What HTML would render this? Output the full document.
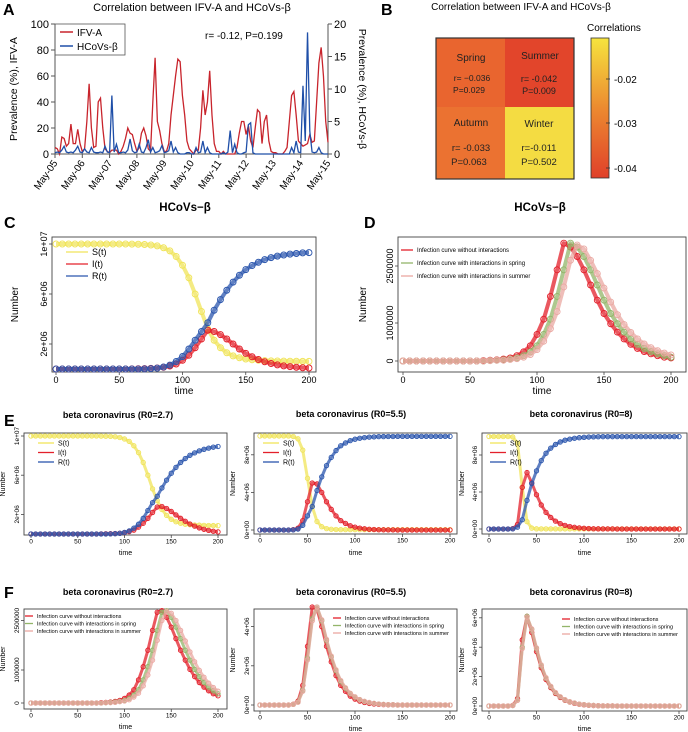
<!DOCTYPE html>
<html><head><meta charset="utf-8">
<style>
html,body{margin:0;padding:0;background:#fff;}
svg{display:block;font-family:"Liberation Sans",sans-serif;}
</style></head>
<body>
<svg id="fig" width="688" height="732" viewBox="0 0 688 732" xmlns="http://www.w3.org/2000/svg">
  <g font-weight="bold" font-size="16" fill="#000">
    <text x="3" y="15">A</text>
    <text x="381" y="15">B</text>
    <text x="4" y="228">C</text>
    <text x="364" y="228">D</text>
    <text x="4" y="426">E</text>
    <text x="4" y="598">F</text>
  </g>
  <g id="panelA">
    <text x="192" y="11" text-anchor="middle" font-size="11">Correlation between IFV-A and HCoVs-β</text>
    <text transform="translate(17,89) rotate(-90)" text-anchor="middle" font-size="10.5">Prevalence (%), IFV-A</text>
    <text transform="translate(359,89) rotate(90)" text-anchor="middle" font-size="10.5">Prevalence (%), HCoVs-β</text>
    <text x="205" y="39" font-size="10">r= -0.12, P=0.199</text>
    <g>
      <rect x="55" y="24" width="70" height="31" fill="#fff" stroke="#555" stroke-width="0.8"/>
      <line x1="60" y1="32" x2="73" y2="32" stroke="#c8242c" stroke-width="1.5"/>
      <text x="77" y="36" font-size="10">IFV-A</text>
      <line x1="60" y1="46" x2="73" y2="46" stroke="#1f4fa8" stroke-width="1.5"/>
      <text x="77" y="50" font-size="10">HCoVs-β</text>
    </g>
  </g>
  <g id="panelB">
    <defs>
      <linearGradient id="cbar" x1="0" y1="0" x2="0" y2="1">
        <stop offset="0" stop-color="#f6e43e"/>
        <stop offset="0.5" stop-color="#ec8a30"/>
        <stop offset="1" stop-color="#e0402a"/>
      </linearGradient>
    </defs>
    <text x="521" y="10" text-anchor="middle" font-size="10">Correlation between IFV-A and HCoVs-β</text>
    <rect x="436" y="38" width="69" height="69" fill="#e9652f"/>
    <rect x="505" y="38" width="69" height="69" fill="#e2452b"/>
    <rect x="436" y="107" width="69" height="72" fill="#eb7231"/>
    <rect x="505" y="107" width="69" height="72" fill="#f4dc42"/>
    <rect x="436" y="38" width="138" height="141" fill="none" stroke="#333" stroke-width="1.2"/>
    <g font-size="10" fill="#222" text-anchor="middle">
      <text x="471" y="61">Spring</text>
      <text x="472" y="81" font-size="8.5">r= −0.036</text>
      <text x="469" y="93" font-size="8.5">P=0.029</text>
      <text x="540" y="59">Summer</text>
      <text x="539" y="82" font-size="9">r= -0.042</text>
      <text x="539" y="94" font-size="9">P=0.009</text>
      <text x="471" y="126">Autumn</text>
      <text x="471" y="151" font-size="9.5">r= -0.033</text>
      <text x="469" y="165" font-size="9.5">P=0.063</text>
      <text x="539" y="127">Winter</text>
      <text x="539" y="151" font-size="9.5">r=-0.011</text>
      <text x="539" y="165" font-size="9.5">P=0.502</text>
    </g>
    <text x="587" y="31" font-size="10">Correlations</text>
    <rect x="591" y="38" width="18" height="140" fill="url(#cbar)" stroke="#333" stroke-width="0.8"/>
    <g stroke="#333" stroke-width="0.8">
      <line x1="606" y1="79" x2="610" y2="79"/><line x1="606" y1="123" x2="610" y2="123"/><line x1="606" y1="168" x2="610" y2="168"/>
    </g>
    <g font-size="10">
      <text x="614" y="83">-0.02</text>
      <text x="614" y="127">-0.03</text>
      <text x="614" y="172">-0.04</text>
    </g>
  </g>
</svg>
<script>
const monthLabels = ["May-05","May-06","May-07","May-08","May-09","May-10","May-11","May-12","May-13","May-14","May-15"];
const leftTicks = [0,20,40,60,80,100];
const rightTicks = [0,5,10,15,20];
const ifvA = [5,4,0,13,12,6,8,23,8,8,19,8,2,4,25,54,20,5,6,40,43,20,4,2,1,3,3,3,0,2,6,12,20,16,15,8,2,5,16,20,14,4,2,40,74,25,18,8,2,2,8,30,45,60,73,71,45,30,10,4,2,0,3,3,20,49,30,40,64,30,8,2,2,0,2,0,0,0,0,0,5,16,25,25,15,22,10,5,20,34,32,8,25,30,10,2,1,1,0,0,0,2,5,25,45,48,30,10,8,6,7,8,15,9,10,40,70,82,60,25,9];
const hcovB = [0.2,0.3,0.2,0.6,1.2,0.3,0.2,0.3,0.2,0.6,1.2,0.3,0.2,0.8,0.3,0.2,1.0,0.3,0.2,0.2,0.3,0.2,1.2,0.3,0.2,9.0,0.3,1.5,0.2,0.2,0.3,0.2,0.6,2.3,0.5,0.2,0.3,1.5,0.3,0.2,1.0,2.2,0.3,1.0,0.2,0.3,0.5,1.3,0.2,0.3,0.5,2.0,0.3,1.0,0.2,0,0,0,0.2,0.2,0,0,1.0,0.2,0.3,2.0,0.2,1.0,0.2,0,0,0,0,0,0.2,0,0.3,3.6,0.2,1.5,0.2,0,0,0.2,0.3,4.5,4.8,0.2,0,0,0,0,0,0,0,0,0,0,0,0,0,0,0,0,1.0,0.2,2.0,0.3,0.2,10.5,2.0,18.7,3.5,0.3,0.2,0.3,1.0,0.2,0,0,0];

const times = [0,5,10,15,20,25,30,35,40,45,50,55,60,65,70,75,80,85,90,95,100,105,110,115,120,125,130,135,140,145,150,155,160,165,170,175,180,185,190,195,200];
const xTicks = [0,50,100,150,200];
const cS = [10,10,10,10,10,10,10,10,10,10,10,10,9.99,9.98,9.96,9.92,9.85,9.7,9.45,9.0,8.3,7.3,6.0,4.6,3.2,2.3,1.7,1.3,1.05,0.9,0.8,0.74,0.7,0.67,0.65,0.64,0.63,0.62,0.62,0.61,0.61];
const cI = [0,0,0,0,0,0,0,0,0,0,0,0,0.01,0.02,0.03,0.05,0.08,0.14,0.24,0.4,0.7,1.1,1.7,2.4,3.1,3.0,2.75,2.4,2.0,1.6,1.25,0.98,0.76,0.58,0.44,0.33,0.25,0.19,0.14,0.1,0.08];
const cR = [0,0,0,0,0,0,0,0,0,0,0,0,0,0,0.01,0.03,0.07,0.16,0.31,0.6,1.0,1.6,2.3,3.0,3.7,4.7,5.55,6.3,6.95,7.5,7.95,8.28,8.54,8.75,8.91,9.03,9.12,9.19,9.24,9.29,9.31];
const dSpring = [0,0,0,0,0,0,0,0,0,0,0,0,0,0.01,0.02,0.03,0.05,0.08,0.14,0.24,0.4,0.7,1.1,1.7,2.4,3.1,3.0,2.75,2.4,2.0,1.6,1.25,0.98,0.76,0.58,0.44,0.33,0.25,0.19,0.14,0.1];
const dSummer = [0,0,0,0,0,0,0,0,0,0,0,0,0,0.01,0.02,0.02,0.04,0.06,0.1,0.17,0.3,0.52,0.85,1.3,1.95,2.65,3.05,2.95,2.65,2.3,1.92,1.55,1.22,0.96,0.75,0.58,0.45,0.35,0.27,0.21,0.16];
const e1S = [10,10,10,10,10,10,10,10,10,10,10,10,10,10,10,9.99,9.98,9.96,9.92,9.85,9.7,9.45,9.0,8.3,7.3,6.0,4.6,3.4,2.5,1.9,1.5,1.25,1.1,1.0,0.95,0.92,0.9,0.88,0.87,0.86,0.85];
const e1I = [0,0,0,0,0,0,0,0,0,0,0,0,0,0,0,0.01,0.02,0.03,0.05,0.08,0.14,0.24,0.4,0.7,1.1,1.6,2.2,2.75,2.8,2.6,2.3,1.95,1.6,1.3,1.02,0.8,0.62,0.48,0.37,0.28,0.22];
const e1R = [0,0,0,0,0,0,0,0,0,0,0,0,0,0,0,0,0,0.01,0.03,0.07,0.16,0.31,0.6,1.0,1.6,2.4,3.2,3.85,4.7,5.5,6.2,6.8,7.3,7.7,8.03,8.28,8.48,8.64,8.76,8.86,8.93];
const e2S = [10,10,10,10,10,10,10,9.95,9.7,8.5,5.5,2.5,0.9,0.35,0.15,0.08,0.05,0.04,0.04,0.04,0.04,0.04,0.04,0.04,0.04,0.04,0.04,0.04,0.04,0.04,0.04,0.04,0.04,0.04,0.04,0.04,0.04,0.04,0.04,0.04,0.04];
const e2I = [0,0,0,0,0,0,0,0.04,0.2,1.0,3.0,5.0,4.9,4.0,3.0,2.2,1.5,1.0,0.7,0.45,0.3,0.2,0.13,0.08,0.05,0.03,0.02,0.01,0.01,0,0,0,0,0,0,0,0,0,0,0,0];
const e2R = [0,0,0,0,0,0,0,0.01,0.1,0.5,1.5,2.5,4.2,5.65,6.85,7.72,8.45,8.96,9.26,9.51,9.66,9.76,9.83,9.88,9.91,9.93,9.94,9.95,9.95,9.96,9.96,9.96,9.96,9.96,9.96,9.96,9.96,9.96,9.96,9.96,9.96];
const e3S = [10,10,10,10,10,9.95,9.3,4.5,0.8,0.1,0.02,0.01,0.01,0.01,0.01,0.01,0.01,0.01,0.01,0.01,0.01,0.01,0.01,0.01,0.01,0.01,0.01,0.01,0.01,0.01,0.01,0.01,0.01,0.01,0.01,0.01,0.01,0.01,0.01,0.01,0.01];
const e3I = [0,0,0,0,0,0.04,0.5,4.5,6.1,5.0,3.7,2.6,1.8,1.25,0.85,0.58,0.39,0.27,0.18,0.12,0.08,0.05,0.03,0.02,0.01,0.01,0.01,0,0,0,0,0,0,0,0,0,0,0,0,0,0];
const e3R = [0,0,0,0,0,0.01,0.2,1.0,3.1,4.9,6.28,7.39,8.19,8.74,9.14,9.41,9.6,9.72,9.81,9.87,9.91,9.94,9.96,9.97,9.98,9.98,9.98,9.99,9.99,9.99,9.99,9.99,9.99,9.99,9.99,9.99,9.99,9.99,9.99,9.99,9.99];
const f1Spring = [0,0,0,0,0,0,0,0,0,0,0,0,0,0,0,0,0.01,0.02,0.03,0.05,0.08,0.14,0.24,0.4,0.7,1.1,1.6,2.2,2.75,2.8,2.6,2.3,1.95,1.6,1.3,1.02,0.8,0.62,0.48,0.37,0.28];
const f1Summer = [0,0,0,0,0,0,0,0,0,0,0,0,0,0,0,0,0.01,0.01,0.02,0.04,0.06,0.1,0.18,0.3,0.52,0.85,1.3,1.9,2.5,2.78,2.72,2.5,2.2,1.88,1.55,1.25,0.99,0.78,0.6,0.47,0.36];
const f2Spring = [0,0,0,0,0,0,0,0.03,0.15,0.75,2.4,4.4,5.0,4.3,3.3,2.45,1.75,1.2,0.85,0.58,0.4,0.27,0.18,0.12,0.08,0.05,0.03,0.02,0.01,0,0,0,0,0,0,0,0,0,0,0,0];
const f2Summer = [0,0,0,0,0,0,0,0.03,0.14,0.7,2.3,4.3,5.0,4.35,3.35,2.5,1.8,1.25,0.88,0.6,0.42,0.28,0.19,0.13,0.08,0.05,0.03,0.02,0.01,0,0,0,0,0,0,0,0,0,0,0,0];
const f3Spring = [0,0,0,0,0,0.03,0.4,4.0,6.1,5.2,3.9,2.75,1.9,1.32,0.9,0.62,0.42,0.29,0.2,0.13,0.09,0.06,0.04,0.02,0.01,0.01,0.01,0,0,0,0,0,0,0,0,0,0,0,0,0,0];
const f3Summer = [0,0,0,0,0,0.03,0.38,3.9,6.05,5.25,3.95,2.8,1.93,1.34,0.92,0.63,0.43,0.3,0.2,0.13,0.09,0.06,0.04,0.02,0.01,0.01,0.01,0,0,0,0,0,0,0,0,0,0,0,0,0,0];

const NS = "http://www.w3.org/2000/svg";
const svg = document.getElementById('fig');
function mk(tag, attrs, parent){
  const el = document.createElementNS(NS, tag);
  for (const k in attrs) el.setAttribute(k, attrs[k]);
  (parent||svg).appendChild(el);
  return el;
}

(function(){
  const g = document.getElementById('panelA');
  const L=55, R=328, T=24, B=154;
  const nM = ifvA.length - 1;
  const xA = i => L + (R-L)*i/nM;
  const yL = v => B - (B-T)*v/100;
  const yR = v => B - (B-T)*v/20;
  const axes = mk('path',{d:`M${L},${T}V${B}H${R}V${T}`,fill:'none',stroke:'#555','stroke-width':1},g);
  
  
  leftTicks.forEach(v=>{
    mk('line',{x1:L-4,x2:L,y1:yL(v),y2:yL(v),stroke:'#555'},g);
    const t = mk('text',{x:L-6,y:yL(v)+4,'text-anchor':'end','font-size':11},g);
    t.textContent = v;
    
    
  });
  rightTicks.forEach(v=>{
    mk('line',{x1:R,x2:R+4,y1:yR(v),y2:yR(v),stroke:'#555'},g);
    const t = mk('text',{x:R+6,y:yR(v)+4,'font-size':11},g);
    t.textContent = v;
    
    
  });
  monthLabels.forEach((lab,k)=>{
    const x = xA(k*12);
    mk('line',{x1:x,x2:x,y1:B,y2:B+4,stroke:'#555'},g);
    const t = mk('text',{transform:`translate(${x+3},${B+9}) rotate(-55)`,'text-anchor':'end','font-size':10},g);
    t.textContent = lab;
    
    
  });
  const pI = mk('polyline',{points:ifvA.map((v,i)=>xA(i)+','+yL(v)).join(' '),fill:'none',stroke:'#c8242c','stroke-width':1.3},g);
  
  
  const pH = mk('polyline',{points:hcovB.map((v,i)=>xA(i)+','+yR(v)).join(' '),fill:'none',stroke:'#1f4fa8','stroke-width':1.3},g);
  
  
})();

function sirPanel(c){
  const g = mk('g',{});
  
  
  const xs = t => c.x0 + (c.x200 - c.x0)*t/200;
  const ys = v => c.y0 - v*c.ppu;
  const box = mk('rect',{x:c.l,y:c.t,width:c.r-c.l,height:c.b-c.t,fill:'none',stroke:'#444','stroke-width':0.9},g);
  
  
  xTicks.forEach(v=>{
    mk('line',{x1:xs(v),x2:xs(v),y1:c.b,y2:c.b+3,stroke:'#444','stroke-width':0.8},g);
    const t = mk('text',{x:xs(v),y:c.b+2+c.fs,'text-anchor':'middle','font-size':c.fs},g);
    t.textContent = v;
    
    
  });
  c.yTicks.forEach((v,i)=>{
    mk('line',{x1:c.l-3,x2:c.l,y1:ys(v),y2:ys(v),stroke:'#444','stroke-width':0.8},g);
    const t = mk('text',{transform:`translate(${c.l-5},${ys(v)}) rotate(-90)`,'text-anchor':'middle','font-size':c.fs},g);
    t.textContent = c.yLabels[i];
    
    
  });
  const tt = mk('text',{x:c.tx,y:c.ty,'text-anchor':'middle','font-size':c.tfs,'font-weight':'bold'},g);
  tt.textContent = c.title;
  
  
  const xl = mk('text',{x:(c.l+c.r)/2,y:c.xly,'text-anchor':'middle','font-size':c.afs},g);
  xl.textContent = 'time';
  
  
  const yl = mk('text',{transform:`translate(${c.ylx},${(c.t+c.b)/2}) rotate(-90)`,'text-anchor':'middle','font-size':c.afs},g);
  yl.textContent = 'Number';
  
  
  c.series.forEach(s=>{
    const sg = mk('g',{},g);
    
    
    const pl = mk('polyline',{points:s.data.map((v,i)=>xs(times[i])+','+ys(v)).join(' '),fill:'none',stroke:s.color,'stroke-width':c.lw,'stroke-opacity':0.75,'stroke-linejoin':'round'},sg);
    
    
    s.data.forEach((v,i)=>{
      const ci = mk('circle',{cx:xs(times[i]),cy:ys(v),r:c.cr,fill:'none',stroke:s.color,'stroke-width':0.9},sg);
      
      
    });
  });
  c.series.forEach((s,k)=>{
    const y = c.lgy + k*c.lgdy;
    const ln = mk('line',{x1:c.lgx,x2:c.lgx+c.lgw,y1:y,y2:y,stroke:s.color,'stroke-width':1.3},g);
    
    
    const lt = mk('text',{x:c.lgx+c.lgw+4,y:y+c.lgfs*0.35,'font-size':c.lgfs},g);
    lt.textContent = s.label;
    
    
  });
}
const YEL='#f0e45a', RED='#e3202b', BLU='#2b56ad', GRN='#93b56a', PNK='#eaa8a2';
const sir = (S,I,R)=>[{name:'series-s',label:'S(t)',data:S,color:YEL},{name:'series-i',label:'I(t)',data:I,color:RED},{name:'series-r',label:'R(t)',data:R,color:BLU}];
const inf = (a,b,c)=>[{name:'series-without',label:'Infection curve without interactions',data:a,color:RED},{name:'series-spring',label:'Infection curve with interactions in spring',data:b,color:GRN},{name:'series-summer',label:'Infection curve with interactions in summer',data:c,color:PNK}];
const big = {fs:9,afs:10,tfs:11.5,lw:4,cr:3};
const sm = {fs:6.5,afs:7,tfs:9,lw:3,cr:2.2};
sirPanel(Object.assign({name:'panel-c-sir',l:52,r:316,t:237,b:372,x0:56,x200:309,y0:369,ppu:12.5,yTicks:[2,6,10],yLabels:['2e+06','6e+06','1e+07'],title:'HCoVs−β',tx:185,ty:211,xly:394,ylx:18,series:sir(cS,cI,cR),lgx:66,lgy:252,lgdy:12,lgw:22,lgfs:9},big));
sirPanel(Object.assign({name:'panel-d-interactions',l:398,r:686,t:237,b:372,x0:403,x200:671,y0:361,ppu:38,yTicks:[0,1,2.5],yLabels:['0','1000000','2500000'],title:'HCoVs−β',tx:540,ty:211,xly:394,ylx:366,series:inf(cI,dSpring,dSummer),lgx:401,lgy:250,lgdy:13,lgw:12,lgfs:6},big));
sirPanel(Object.assign({name:'panel-e1-r0-2-7',l:24,r:227,t:433,b:535,x0:31,x200:218,y0:534,ppu:9.8,yTicks:[2,6,10],yLabels:['2e+06','6e+06','1e+07'],title:'beta coronavirus (R0=2.7)',tx:118,ty:418,xly:555,ylx:5,series:sir(e1S,e1I,e1R),lgx:38,lgy:443,lgdy:9.5,lgw:16,lgfs:7},sm));
sirPanel(Object.assign({name:'panel-e2-r0-5-5',l:254,r:457,t:433,b:534,x0:260,x200:450,y0:530,ppu:9.4,yTicks:[0,4,8],yLabels:['0e+00','4e+06','8e+06'],title:'beta coronavirus (R0=5.5)',tx:351,ty:417,xly:555,ylx:235,series:sir(e2S,e2I,e2R),lgx:263,lgy:443,lgdy:9.5,lgw:16,lgfs:7},sm));
sirPanel(Object.assign({name:'panel-e3-r0-8',l:482,r:687,t:433,b:534,x0:489,x200:679,y0:529,ppu:9.25,yTicks:[0,4,8],yLabels:['0e+00','4e+06','8e+06'],title:'beta coronavirus (R0=8)',tx:581,ty:417,xly:555,ylx:464,series:sir(e3S,e3I,e3R),lgx:490,lgy:443,lgdy:9.5,lgw:16,lgfs:7},sm));
sirPanel(Object.assign({name:'panel-f1-r0-2-7',l:24,r:227,t:609,b:709,x0:31,x200:218,y0:703,ppu:33,yTicks:[0,1,2.5],yLabels:['0','1000000','2500000'],title:'beta coronavirus (R0=2.7)',tx:118,ty:595,xly:729,ylx:5,series:inf(e1I,f1Spring,f1Summer),lgx:25,lgy:616,lgdy:7.5,lgw:8,lgfs:5.5},sm));
sirPanel(Object.assign({name:'panel-f2-r0-5-5',l:254,r:457,t:609,b:711,x0:260,x200:450,y0:705,ppu:19.6,yTicks:[0,2,4],yLabels:['0e+00','2e+06','4e+06'],title:'beta coronavirus (R0=5.5)',tx:351,ty:595,xly:731,ylx:235,series:inf(e2I,f2Spring,f2Summer),lgx:333,lgy:618,lgdy:7.5,lgw:8,lgfs:5.5},sm));
sirPanel(Object.assign({name:'panel-f3-r0-8',l:482,r:687,t:609,b:711,x0:489,x200:679,y0:706,ppu:14.7,yTicks:[0,2,4,6],yLabels:['0e+00','2e+06','4e+06','6e+06'],title:'beta coronavirus (R0=8)',tx:581,ty:595,xly:731,ylx:464,series:inf(e3I,f3Spring,f3Summer),lgx:562,lgy:619,lgdy:7.5,lgw:8,lgfs:5.5},sm));
</script>
</body></html>
